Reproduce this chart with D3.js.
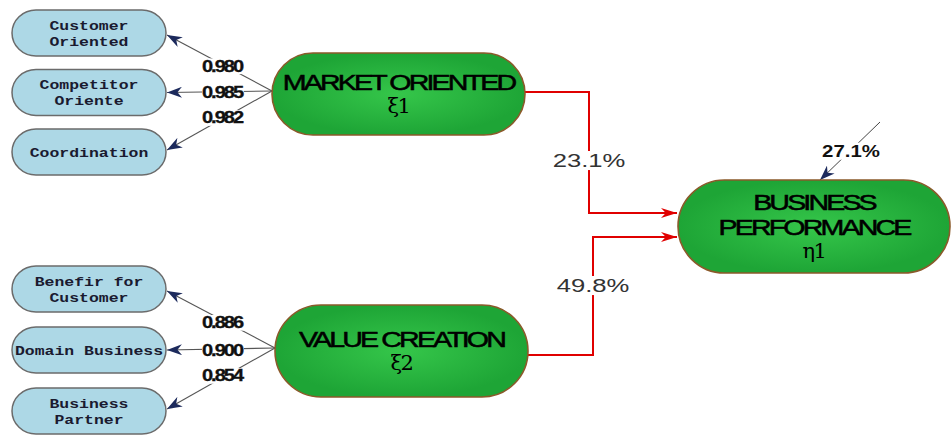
<!DOCTYPE html>
<html>
<head>
<title>Path model</title>
<script src="https://cdn.jsdelivr.net/npm/d3@7"></script>
<style>
  body { margin: 0; background: #fff; }
  svg { display: block; }
</style>
</head>
<body>
<svg></svg>
<script>
// model data
var latentNames = ["MARKET ORIENTED", "VALUE CREATION", "BUSINESS PERFORMANCE"];
var latentSymbols = ["\u03BE1", "\u03BE2", "\u03B71"];
var indicatorNames = ["Customer\nOriented", "Competitor\nOriente", "Coordination",
                      "Benefir for\nCustomer", "Domain Business", "Business\nPartner"];
var indicatorGroup = [0, 0, 0, 1, 1, 1];
var loadings = [0.980, 0.985, 0.982, 0.886, 0.900, 0.854];
var pathValues = [23.1, 49.8];   // MO -> BP, VC -> BP
var rSquare = 27.1;

var W = 951, H = 437;
var svg = d3.select("svg").attr("width", W).attr("height", H);

// layout scales (row index -> vertical centre)
var rowY = [
  d3.scaleLinear().domain([0, 2]).range([33, 152]),
  d3.scaleLinear().domain([0, 2]).range([289, 411])
];
var latentBox = [
  {x: 272, y: 53, w: 253, h: 82},
  {x: 275, y: 305, w: 253, h: 92},
  {x: 678, y: 180, w: 272, h: 93}
];
var indX = 12, indW = 154, indH = 46;

var defs = svg.append("defs");
var grad = defs.append("radialGradient").attr("id", "green");
grad.append("stop").attr("offset", "0%").attr("stop-color", "#35c64a");
grad.append("stop").attr("offset", "100%").attr("stop-color", "#1ea536");

function marker(id, color, len, wid) {
  defs.append("marker").attr("id", id)
      .attr("viewBox", "0 0 " + len + " " + wid)
      .attr("refX", len).attr("refY", wid / 2)
      .attr("markerWidth", len).attr("markerHeight", wid)
      .attr("markerUnits", "userSpaceOnUse")
      .attr("orient", "auto")
    .append("path")
      .attr("d", "M0,0L" + len + "," + (wid / 2) + "L0," + wid + "L" + (len * 0.3) + "," + (wid / 2) + "Z")
      .attr("fill", color);
}
marker("navy", "#1c2a5c", 15, 11);
marker("red", "#e00000", 16, 10);

// horizontal stretch helper (the picture is wide-set)
function stretch(sel, k) {
  sel.each(function() {
    var t = d3.select(this), x = +t.attr("x");
    t.attr("transform", "translate(" + x + ",0) scale(" + k + ",1) translate(" + (-x) + ",0)");
  });
}
function whiteBack(textSel, pad) {
  textSel.each(function() {
    var b = this.getBBox();
    var tr = this.getAttribute("transform");
    d3.select(this.parentNode).insert("rect", function() { return null; })
      .attr("x", b.x - pad).attr("y", b.y + 1).attr("width", b.width + 2 * pad).attr("height", b.height - 2)
      .attr("transform", tr).attr("fill", "#fff");
    this.parentNode.appendChild(this);
  });
}

var fmt = d3.format(".3f");
var gLinks = svg.append("g");
var gNodes = svg.append("g");

// loading arrows
var rowIndex = [0, 1, 2, 0, 1, 2];
indicatorNames.forEach(function(name, i) {
  var g = indicatorGroup[i], lb = latentBox[g];
  var sx = lb.x, sy = lb.y + lb.h / 2 - 3;
  var ty = rowY[g](rowIndex[i]);
  var tx = indX + indW + 1;
  var dy = ty - sy;
  if (Math.abs(dy) > 10) ty = ty + (dy < 0 ? 2 : -2);
  gLinks.append("line")
    .attr("x1", sx).attr("y1", sy).attr("x2", tx).attr("y2", ty)
    .attr("stroke", "#555").attr("stroke-width", 1.1)
    .attr("marker-end", "url(#navy)");
  var lg = gLinks.append("g");
  var lx = 222, ly = sy + (ty - sy) * 0.45;
  if (rowIndex[i] === 1) ly = ty;
  var t = lg.append("text")
    .attr("x", lx).attr("y", ly)
    .attr("text-anchor", "middle").attr("dy", "0.36em")
    .attr("font-family", "Liberation Sans, Arial, sans-serif")
    .attr("font-weight", "bold").attr("font-size", 16)
    .attr("letter-spacing", -1.6)
    .attr("stroke", "#111").attr("stroke-width", 0.3)
    .attr("fill", "#111")
    .text(fmt(loadings[i]));
  stretch(t, 1.25);
  whiteBack(t, 0);
});

// structural paths
var bp = latentBox[2];
[0, 1].forEach(function(k) {
  var lb = latentBox[k];
  var sx = lb.x + lb.w, sy = lb.y + lb.h / 2 - (k === 0 ? 2 : -4);
  var mx = k === 0 ? 589 : 593;
  var ty = k === 0 ? 213 : 237;
  gLinks.append("path")
    .attr("d", "M" + sx + "," + sy + "H" + mx + "V" + ty + "H" + (bp.x - 1))
    .attr("fill", "none").attr("stroke", "#e00000").attr("stroke-width", 2)
    .attr("marker-end", "url(#red)");
  var lg = gLinks.append("g");
  var t = lg.append("text")
    .attr("x", mx).attr("y", k === 0 ? 160 : 285)
    .attr("text-anchor", "middle").attr("dy", "0.36em")
    .attr("font-family", "Liberation Sans, Arial, sans-serif")
    .attr("font-size", 19).attr("fill", "#333")
    .text(pathValues[k].toFixed(1) + "%");
  stretch(t, 1.35);
  whiteBack(t, 3);
});

// residual arrow on endogenous construct
var eg = gLinks.append("g");
eg.append("line")
  .attr("x1", 880).attr("y1", 122).attr("x2", bp.x + 142).attr("y2", bp.y)
  .attr("stroke", "#444").attr("stroke-width", 1)
  .attr("marker-end", "url(#navy)");
var rt = eg.append("text")
  .attr("x", 851).attr("y", 151).attr("text-anchor", "middle").attr("dy", "0.36em")
  .attr("font-family", "Liberation Sans, Arial, sans-serif")
  .attr("font-weight", "bold").attr("font-size", 17).attr("fill", "#111")
  .text(rSquare.toFixed(1) + "%");
stretch(rt, 1.2);
whiteBack(rt, 1);

// indicator nodes
indicatorNames.forEach(function(name, i) {
  var g = indicatorGroup[i], cy = rowY[g](rowIndex[i]);
  var ng = gNodes.append("g");
  ng.append("rect")
    .attr("x", indX).attr("y", cy - indH / 2).attr("width", indW).attr("height", indH)
    .attr("rx", 24).attr("ry", 23)
    .attr("fill", "#add8e6").attr("stroke", "#6b6b6b").attr("stroke-width", 1.5);
  var lines = name.split("\n");
  lines.forEach(function(ln, j) {
    var t = ng.append("text")
      .attr("x", indX + indW / 2)
      .attr("y", cy + (j - (lines.length - 1) / 2) * 16)
      .attr("text-anchor", "middle").attr("dy", "0.35em")
      .attr("font-family", "Liberation Mono, Courier New, monospace")
      .attr("font-weight", "bold").attr("font-size", 13.5)
      .attr("fill", "#1a1a30")
      .text(ln);
    stretch(t, 1.22);
  });
});

// latent nodes
var titleLines = [["MARKET ORIENTED"], ["VALUE CREATION"], ["BUSINESS", "PERFORMANCE"]];
latentBox.forEach(function(b, i) {
  var ng = gNodes.append("g");
  ng.append("rect")
    .attr("x", b.x).attr("y", b.y).attr("width", b.w).attr("height", b.h)
    .attr("rx", b.h / 2).attr("ry", b.h / 2)
    .attr("fill", "url(#green)").attr("stroke", "#8a5a2a").attr("stroke-width", 1.6);
  var cx = b.x + b.w / 2;
  var lines = titleLines[i];
  var top = b.y + b.h / 2 - 12 * lines.length;
  lines.forEach(function(ln, j) {
    var t = ng.append("text")
      .attr("x", cx).attr("y", top + j * 25)
      .attr("text-anchor", "middle").attr("dy", "0.36em")
      .attr("font-family", "Liberation Sans, Arial, sans-serif")
      .attr("font-size", 22).attr("letter-spacing", -2.2)
      .attr("stroke", "#000").attr("stroke-width", 0.5)
      .attr("fill", "#000")
      .text(ln);
    stretch(t, 1.3);
  });
  ng.append("text")
    .attr("x", cx).attr("y", top + lines.length * 25 - 2)
    .attr("text-anchor", "middle").attr("dy", "0.36em")
    .attr("font-family", "DejaVu Serif, serif")
    .attr("font-size", 21).attr("letter-spacing", -1.5)
    .attr("fill", "#000")
    .text(latentSymbols[i]);
});
</script>
</body>
</html>
